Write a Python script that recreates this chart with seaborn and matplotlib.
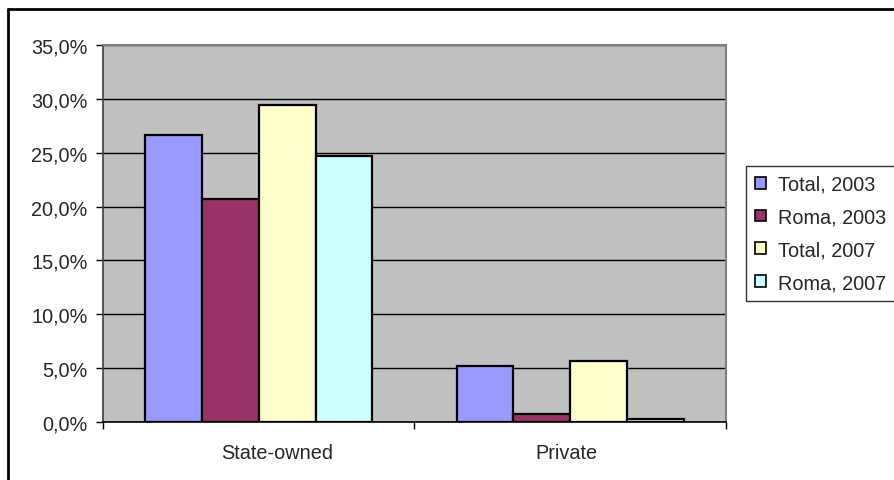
import pandas as pd
import seaborn as sns
import matplotlib
matplotlib.use("Agg")
from matplotlib import pyplot as plt
from matplotlib.lines import Line2D
from matplotlib.ticker import FuncFormatter
from matplotlib.transforms import ScaledTranslation

# values (share, 0-1)
categories = ["State-owned", "Private"]
series = ["Total, 2003", "Roma, 2003", "Total, 2007", "Roma, 2007"]
total_2003 = [0.266, 0.052]
roma_2003 = [0.207, 0.008]
total_2007 = [0.294, 0.057]
roma_2007 = [0.247, 0.003]
colors = ["#9999FF", "#993366", "#FFFFCC", "#CCFFFF"]

rows = []
for name, vals in zip(series, [total_2003, roma_2003, total_2007, roma_2007]):
    for cat, v in zip(categories, vals):
        rows.append({"sector": cat, "group": name, "share": v})
df = pd.DataFrame(rows)

sns.set_style("white")
plt.rcParams["font.family"] = ["Liberation Sans", "DejaVu Sans"]
fs = 14.3

fig = plt.figure(figsize=(8.95, 4.81), dpi=100)
ax = fig.add_axes([103 / 895, 1 - 423.3 / 481, 623 / 895, 377.6 / 481])

sns.barplot(data=df, x="sector", y="share", hue="group", order=categories,
            hue_order=series, palette=colors, saturation=1, width=0.73, gap=0,
            edgecolor="black", linewidth=1.6, ax=ax, legend=True, zorder=3)

ax.set_facecolor("#C0C0C0")
ax.set_ylim(0, 0.35)
ax.set_xlim(-0.5, 1.5)
ax.set_yticks([i * 0.05 for i in range(8)])
ax.yaxis.set_major_formatter(FuncFormatter(lambda v, p: f"{v * 100:.1f}%".replace(".", ",")))
ax.grid(axis="y", color="black", linewidth=1, zorder=0)
ax.set_axisbelow(True)
ax.set_xlabel("")
ax.set_ylabel("")

ax.tick_params(axis="y", which="major", direction="out", length=5, width=1,
               color="black", left=True, labelsize=fs, pad=6)
ax.tick_params(axis="x", which="major", length=0, labelsize=fs, pad=15)
ax.set_xticks([-0.5, 0.5, 1.5], minor=True)
ax.tick_params(axis="x", which="minor", direction="out", length=5, width=1,
               color="black", bottom=True)

# Excel placed the category labels slightly off centre
for lab, dx in zip(ax.get_xticklabels(), [18, -4]):
    lab.set_transform(lab.get_transform() + ScaledTranslation(dx / 100, 0, fig.dpi_scale_trans))

for side in ["top", "right"]:
    ax.spines[side].set_color("#808080")
    ax.spines[side].set_linewidth(1.5)
ax.spines["left"].set_color("#404040")
ax.spines["left"].set_linewidth(1.2)
ax.spines["bottom"].set_color("black")
ax.spines["bottom"].set_linewidth(1.2)

handles, labels = ax.get_legend_handles_labels()
ax.get_legend().remove()
leg = fig.legend(handles, labels, loc="upper left",
                 bbox_to_anchor=(746 / 895, 1 - 166.7 / 481), fontsize=fs,
                 frameon=True, fancybox=False, edgecolor="black",
                 handlelength=0.55, handleheight=0.55, handletextpad=0.6,
                 labelspacing=0.7, borderpad=0.45, borderaxespad=0)
leg.get_frame().set_linewidth(1)
for h in leg.legend_handles:
    h.set_edgecolor("black")
    h.set_linewidth(1.2)

# outer chart border (left and top edges visible)
fig.add_artist(Line2D([8 / 895, 8 / 895], [0, 1 - 10 / 481], color="black",
                      linewidth=2, transform=fig.transFigure))
fig.add_artist(Line2D([8 / 895, 1], [1 - 10 / 481, 1 - 10 / 481], color="black",
                      linewidth=2, transform=fig.transFigure))

fig.savefig("out.png", dpi=100)
